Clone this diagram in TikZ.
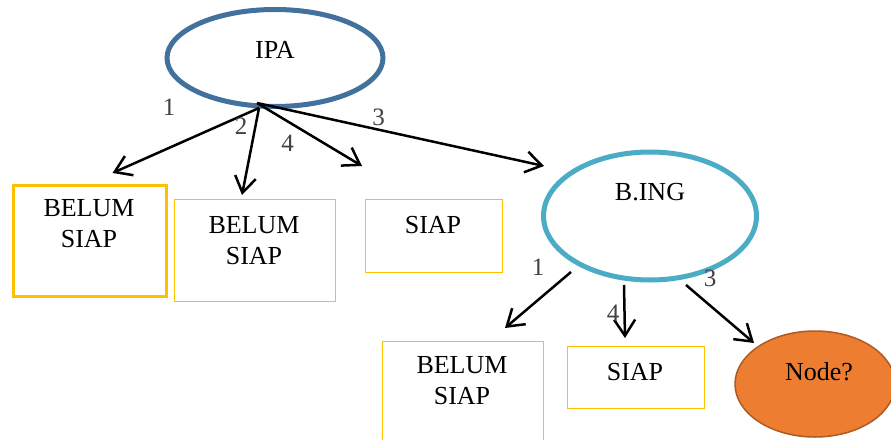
\documentclass[tikz,border=0pt]{standalone}
\usepackage{fontspec}
\setmainfont{Liberation Serif}
\usetikzlibrary{arrows.meta,shapes.geometric}
\definecolor{ipablue}{HTML}{41719C}
\definecolor{bingblue}{HTML}{4BACC6}
\definecolor{boxgold}{HTML}{FFC000}
\definecolor{nodefill}{HTML}{ED7D31}
\definecolor{nodeline}{HTML}{AE5A21}
\definecolor{labgray}{HTML}{404040}
\begin{document}
\begin{tikzpicture}[x=1pt,y=-1pt,
  txt/.style={font=\fontsize{26}{31}\selectfont, align=center, inner sep=0, anchor=base},
  lab/.style={font=\fontsize{25}{30}\selectfont, text=labgray, inner sep=0},
  ovalA/.style={draw=ipablue, line width=5pt, ellipse, inner sep=0},
  ovalB/.style={draw=bingblue, line width=5pt, ellipse, inner sep=0},
  goldbox/.style={draw=boxgold, line width=1.2pt, rectangle, inner sep=0, anchor=north west},
  arr/.style={draw=black, line width=2.5pt, -{Straight Barb[length=16pt,width=21pt,line width=2.5pt]}}
]
\useasboundingbox (0,0) rectangle (891,439);
\fill[white] (0,0) rectangle (891,439);

% ellipses
\node[ovalA, minimum width=216pt, minimum height=97pt] (ipa) at (275,58) {};
\node[ovalB, minimum width=213pt, minimum height=128pt] (bing) at (650,216) {};
\node[ellipse, draw=nodeline, fill=nodefill, line width=1.5pt, inner sep=0,
      minimum width=160pt, minimum height=106pt] (nq) at (815,384) {};

% boxes
\node[goldbox, line width=3pt, minimum width=153pt, minimum height=111pt] (b1) at (12.2,183.5) {};
\node[goldbox, minimum width=161pt, minimum height=102pt] (b2) at (174,199) {};
\node[goldbox, minimum width=137.5pt, minimum height=72.5pt] (b3) at (364.5,199) {};
\node[goldbox, minimum width=160.5pt, minimum height=110pt] (b4) at (382,341) {};
\node[goldbox, minimum width=137pt, minimum height=61.5pt] (b5) at (566.5,346) {};

% texts (base anchor = baseline of last line)
\node[txt] (tipa) at (275,58) {IPA};
\node[txt] (tbing) at (650,200) {B.ING};
\node[txt] (tnq) at (819,380) {Node?};
\node[txt] (tb1) at (89,247.5) {BELUM\\SIAP};
\node[txt] (tb2) at (254,264) {BELUM\\SIAP};
\node[txt] (tb3) at (433,233) {SIAP};
\node[txt] (tb4) at (462,404) {BELUM\\SIAP};
\node[txt] (tb5) at (635,380) {SIAP};

% arrow endpoints
\coordinate (ia) at (259,108);
\coordinate (ib) at (257,103);
\coordinate (e1) at (112.5,173);
\coordinate (e2) at (242,195);
\coordinate (e4) at (362,166);
\coordinate (e3) at (544,166);
\coordinate (s1) at (571,272);
\coordinate (s4) at (624,285);
\coordinate (s3) at (686,285);
\coordinate (f1) at (505,328);
\coordinate (f4) at (625,338);
\coordinate (f3) at (754,343);

\draw[arr] (ia) -- (e1);
\draw[arr] (ia) -- (e2);
\draw[arr] (ib) -- (e4);
\draw[arr] (ib) -- (e3);
\draw[arr] (s1) -- (f1);
\draw[arr] (s4) -- (f4);
\draw[arr] (s3) -- (f3);

% labels
\node[lab] (l1) at (169,107) {1};
\node[lab] (l2) at (241,126) {2};
\node[lab] (l4) at (287.5,143) {4};
\node[lab] (l3) at (378.6,117) {3};
\node[lab] (m1) at (538,267) {1};
\node[lab] (m4) at (613,313) {4};
\node[lab] (m3) at (710,278) {3};
\end{tikzpicture}
\end{document}
